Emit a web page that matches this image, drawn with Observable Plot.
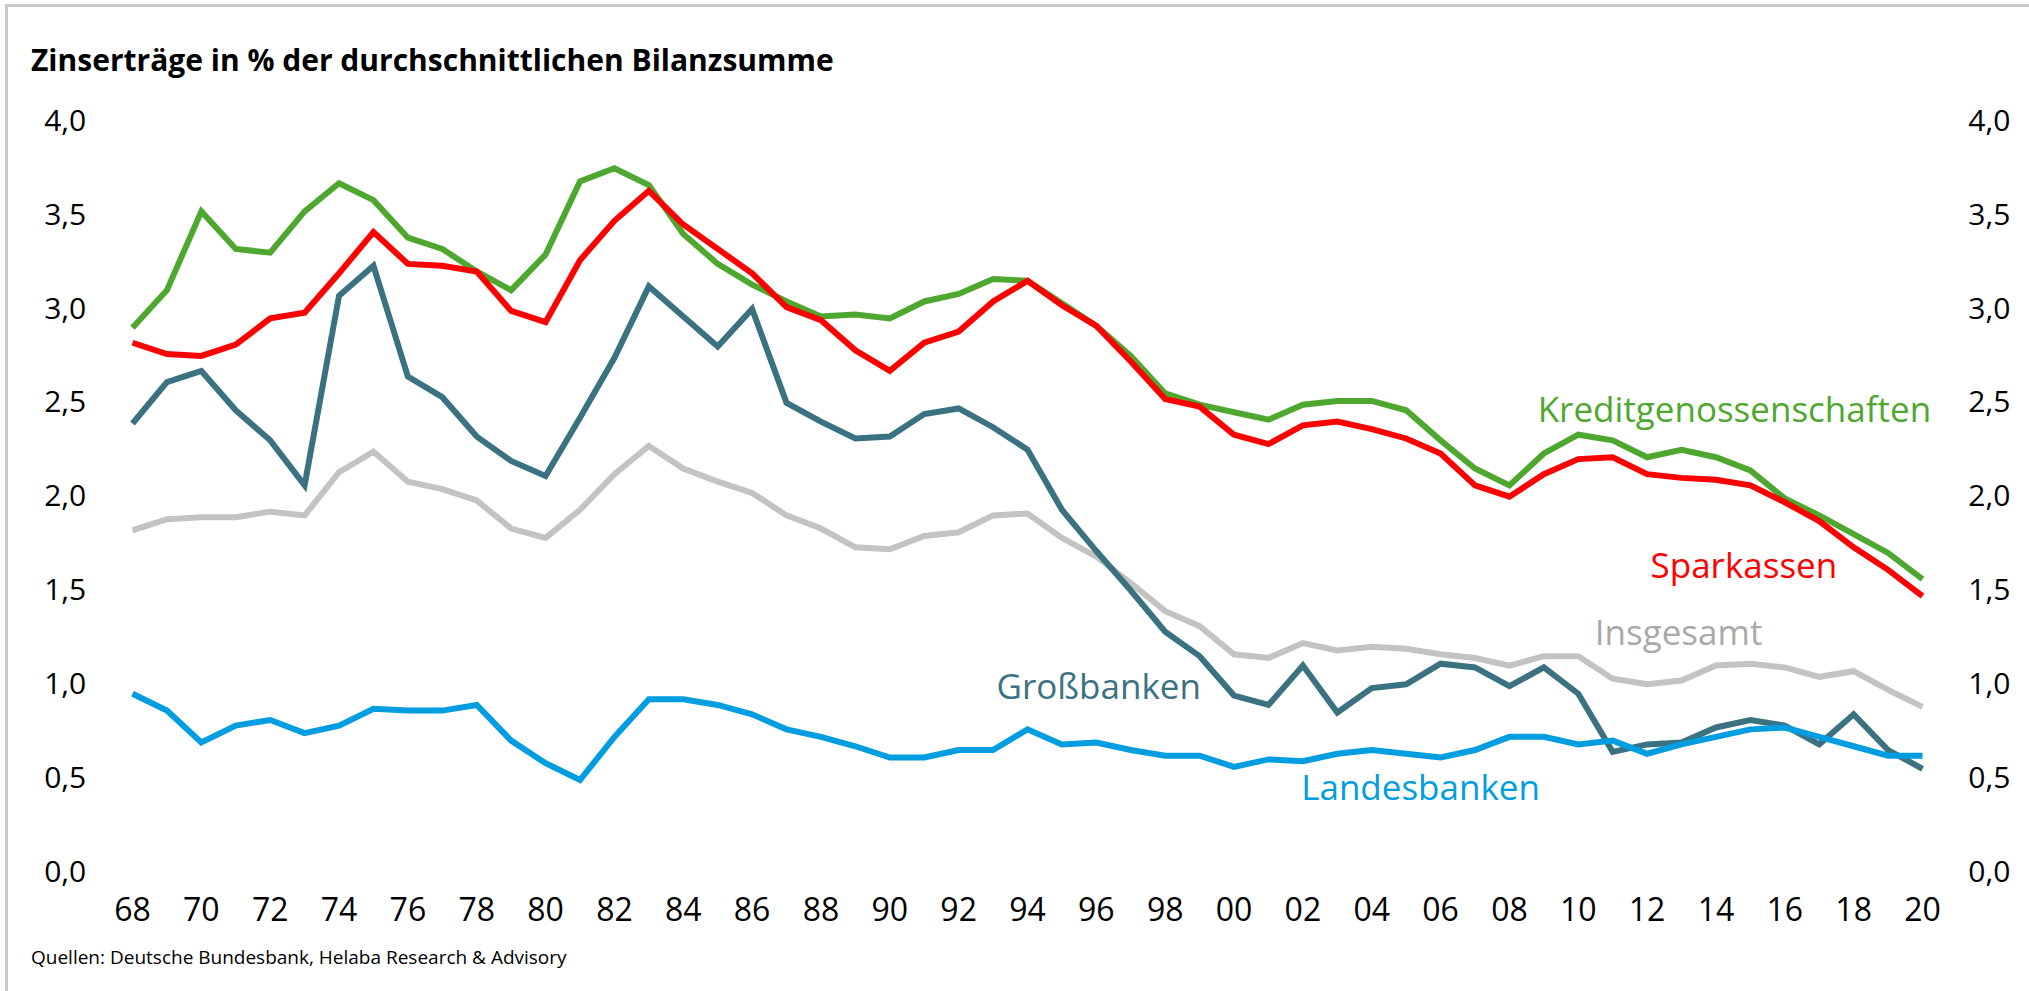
<!DOCTYPE html>
<html>
<head>
<meta charset="utf-8">
<script src="https://cdn.jsdelivr.net/npm/d3@7"></script>
<script src="https://cdn.jsdelivr.net/npm/@observablehq/plot@0.6"></script>
<style>
  html, body { margin: 0; padding: 0; background: #fff; }
  #frame { position: relative; width: 2029px; height: 991px; overflow: hidden; background: #fff; font-family: "Open Sans", sans-serif; color: #000; }
  #border { position: absolute; left: 5px; top: 4px; right: -10px; bottom: -10px; border-left: 3px solid #c8c8c8; border-top: 3px solid #c8c8c8; }
  #title { position: absolute; left: 31px; top: 45px; font-size: 30px; line-height: 1; font-weight: 700; white-space: nowrap; }
  #chart { position: absolute; left: 0; top: 90px; }
  #caption { position: absolute; left: 31px; top: 948px; font-size: 19px; line-height: 1; white-space: nowrap; }
</style>
</head>
<body>
<div id="frame">
  <div id="border"></div>
  <div id="title">Zinserträge in % der durchschnittlichen Bilanzsumme</div>
  <div id="chart"></div>
  <div id="caption">Quellen: Deutsche Bundesbank, Helaba Research &amp; Advisory</div>
</div>
<script>
// ---- Data ----
const years = d3.range(1968, 2021);

const kreditgenossenschaften = [
  2.90, 3.10, 3.52, 3.32, 3.30, 3.52, 3.67, 3.58, 3.38, 3.32,
  3.20, 3.10, 3.29, 3.68, 3.75, 3.66, 3.40, 3.24, 3.13, 3.04,
  2.96, 2.97, 2.95, 3.04, 3.08, 3.16, 3.15, 3.03, 2.91, 2.75,
  2.55, 2.49, 2.45, 2.41, 2.49, 2.51, 2.51, 2.46, 2.30, 2.15,
  2.06, 2.23, 2.33, 2.30, 2.21, 2.25, 2.21, 2.14, 1.99, 1.90,
  1.80, 1.70, 1.56
];
const sparkassen = [
  2.82, 2.76, 2.75, 2.81, 2.95, 2.98, 3.19, 3.41, 3.24, 3.23,
  3.20, 2.99, 2.93, 3.26, 3.47, 3.63, 3.45, 3.32, 3.19, 3.01,
  2.94, 2.78, 2.67, 2.82, 2.88, 3.04, 3.15, 3.02, 2.91, 2.72,
  2.52, 2.48, 2.33, 2.28, 2.38, 2.40, 2.36, 2.31, 2.23, 2.06,
  2.00, 2.12, 2.20, 2.21, 2.12, 2.10, 2.09, 2.06, 1.97, 1.87,
  1.73, 1.61, 1.47
];
const grossbanken = [
  2.39, 2.61, 2.67, 2.46, 2.30, 2.06, 3.07, 3.23, 2.64, 2.53,
  2.32, 2.19, 2.11, 2.42, 2.74, 3.12, 2.96, 2.80, 3.00, 2.50,
  2.40, 2.31, 2.32, 2.44, 2.47, 2.37, 2.25, 1.93, 1.71, 1.50,
  1.28, 1.15, 0.94, 0.89, 1.10, 0.85, 0.98, 1.00, 1.11, 1.09,
  0.99, 1.09, 0.95, 0.64, 0.68, 0.69, 0.77, 0.81, 0.78, 0.68,
  0.84, 0.65, 0.55
];
const insgesamt = [
  1.82, 1.88, 1.89, 1.89, 1.92, 1.90, 2.13, 2.24, 2.08, 2.04,
  1.98, 1.83, 1.78, 1.93, 2.12, 2.27, 2.15, 2.08, 2.02, 1.90,
  1.83, 1.73, 1.72, 1.79, 1.81, 1.90, 1.91, 1.78, 1.68, 1.54,
  1.39, 1.31, 1.16, 1.14, 1.22, 1.18, 1.20, 1.19, 1.16, 1.14,
  1.10, 1.15, 1.15, 1.03, 1.00, 1.02, 1.10, 1.11, 1.09, 1.04,
  1.07, 0.97, 0.88
];
const landesbanken = [
  0.95, 0.86, 0.69, 0.78, 0.81, 0.74, 0.78, 0.87, 0.86, 0.86,
  0.89, 0.70, 0.58, 0.49, 0.72, 0.92, 0.92, 0.89, 0.84, 0.76,
  0.72, 0.67, 0.61, 0.61, 0.65, 0.65, 0.76, 0.68, 0.69, 0.65,
  0.62, 0.62, 0.56, 0.60, 0.59, 0.63, 0.65, 0.63, 0.61, 0.65,
  0.72, 0.72, 0.68, 0.70, 0.63, 0.68, 0.72, 0.76, 0.77, 0.72,
  0.67, 0.62, 0.62
];

const seriesNames = ["Insgesamt", "Großbanken", "Landesbanken", "Kreditgenossenschaften", "Sparkassen"];
const seriesValues = [insgesamt, grossbanken, landesbanken, kreditgenossenschaften, sparkassen];

const yTicks = [0, 0.5, 1, 1.5, 2, 2.5, 3, 3.5, 4];
const xTicks = d3.range(1968, 2021, 2);

// label placement (data coordinates of the label's baseline start)
const labelNames = ["Kreditgenossenschaften", "Sparkassen", "Insgesamt", "Großbanken", "Landesbanken"];
const labelYear  = [2008.82, 2012.10, 2010.48, 1993.10, 2001.95];
const labelValue = [2.396, 1.569, 1.207, 0.924, 0.381];

// ---- styles ----
const colors = {
  "Insgesamt": "#c3c3c3",
  "Großbanken": "#3b7282",
  "Landesbanken": "#009ee0",
  "Kreditgenossenschaften": "#4ea72e",
  "Sparkassen": "#ff0000"
};
const labelColors = {
  "Insgesamt": "#a9a9a9",
  "Großbanken": "#3b7282",
  "Landesbanken": "#009ee0",
  "Kreditgenossenschaften": "#4ea72e",
  "Sparkassen": "#ff0000"
};

const rows = [];
seriesNames.forEach((name, i) => {
  years.forEach((yr, j) => rows.push({series: name, year: yr, value: seriesValues[i][j]}));
});
const labels = labelNames.map((n, i) => ({name: n, year: labelYear[i], value: labelValue[i]}));

const fmtY = d => d.toFixed(1).replace(".", ",");
const fmtX = d => String(d % 100).padStart(2, "0");

const chart = Plot.plot({
  width: 2029,
  height: 850,
  marginTop: 30.8,
  marginBottom: 68.5,
  marginLeft: 132,
  marginRight: 107,
  style: { fontFamily: "'Open Sans', sans-serif", fontSize: "30px", color: "#000", background: "transparent" },
  x: { domain: [1968, 2020], axis: null },
  y: { domain: [0, 4], axis: null },
  marks: [
    Plot.axisX({ ticks: xTicks, tickFormat: fmtX, tickSize: 0, tickPadding: 25.8, fontSize: 32, label: null }),
    Plot.axisY({ anchor: "left", ticks: yTicks, tickFormat: fmtY, tickSize: 0, tickPadding: 67.3, textAnchor: "middle", fontSize: 30, label: null }),
    Plot.axisY({ anchor: "right", ticks: yTicks, tickFormat: fmtY, tickSize: 0, tickPadding: 66.8, textAnchor: "middle", fontSize: 30, label: null }),
    ...seriesNames.map(name => Plot.line(rows.filter(r => r.series === name), {
      x: "year", y: "value", stroke: colors[name], strokeWidth: 6,
      strokeLinejoin: "miter", strokeMiterlimit: 4, strokeLinecap: "butt"
    })),
    Plot.text(labels, {
      x: "year", y: "value", text: "name", fill: d => labelColors[d.name],
      textAnchor: "start", lineAnchor: "bottom", fontSize: 35
    })
  ]
});
document.getElementById("chart").appendChild(chart);
</script>
</body>
</html>
